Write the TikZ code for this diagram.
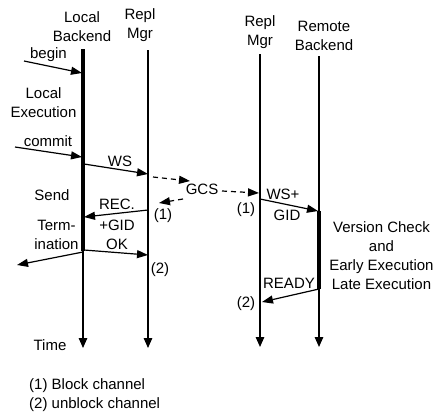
\documentclass[tikz,border=0pt]{standalone}
\usepackage{fontspec}
\setmainfont{Liberation Sans}
\usetikzlibrary{arrows.meta}
\begin{document}
\begin{tikzpicture}[x=1pt,y=-1pt,
  lbl/.style={font=\fontsize{15}{19}\selectfont, inner sep=0pt, align=center},
  life/.style={line width=1.4pt, -{Triangle[length=10pt,width=8.5pt]}},
  msg/.style={line width=1.2pt, -{Triangle[length=11pt,width=8pt]}},
  gcsmsg/.style={msg, dash pattern=on 5pt off 4pt},
  active/.style={line width=3.2pt},
]
\useasboundingbox (0,0) rectangle (436,413);

% lifeline headers
\node[lbl] (hLocal)  at (82,26.3)  {Local\\Backend};
\node[lbl] (hReplA)  at (140,25)   {Repl\\Mgr};
\node[lbl] (hReplB)  at (260,32.5) {Repl\\Mgr};
\node[lbl] (hRemote) at (324,35.5) {Remote\\Backend};

% lifelines
\coordinate (lbTop) at (83,49);   \coordinate (lbBot) at (83,348);
\coordinate (raTop) at (148,50);  \coordinate (raBot) at (148,348);
\coordinate (rbTop) at (260,54);  \coordinate (rbBot) at (260,347);
\coordinate (reTop) at (319,56);  \coordinate (reBot) at (319,347);
\draw[life] (lbTop) -- (lbBot);
\draw[life] (raTop) -- (raBot);
\draw[life] (rbTop) -- (rbBot);
\draw[life] (reTop) -- (reBot);

% activation bars
\coordinate (lbActEnd) at (83,251);
\draw[active] (lbTop) -- (lbActEnd);
\coordinate (reActTop) at (319,211);
\coordinate (reActEnd) at (319,289);
\draw[active] (reActTop) -- (reActEnd);

% begin / commit requests
\coordinate (beginSrc) at (24,61);  \coordinate (beginDst) at (82,73);
\draw[msg] (beginSrc) -- (beginDst);
\node[lbl] (tBegin) at (48.5,55) {begin};
\node[lbl] (tLocalExec) at (43.5,102.5) {Local\\Execution};
\coordinate (commitSrc) at (15,147); \coordinate (commitDst) at (82,157);
\draw[msg] (commitSrc) -- (commitDst);
\node[lbl] (tCommit) at (48,141) {commit};

% write set to the replication manager
\coordinate (wsSrc) at (84,164); \coordinate (wsDst) at (148,174);
\draw[msg] (wsSrc) -- (wsDst);
\node[lbl] (tWS) at (120,161.5) {WS};

% group communication
\node[lbl] (gcs) at (202,189) {GCS};
\coordinate (gcsInA) at (153,177); \coordinate (gcsInB) at (190,181);
\draw[gcsmsg] (gcsInA) -- (gcsInB);
\coordinate (gcsOutA) at (222,191); \coordinate (gcsOutB) at (259,193);
\draw[gcsmsg] (gcsOutA) -- (gcsOutB);
\coordinate (gcsBackA) at (183,199); \coordinate (gcsBackB) at (159,203);
\draw[gcsmsg] (gcsBackA) -- (gcsBackB);

% local send termination
\node[lbl] (tSend) at (52,195) {Send};
\node[lbl] (tTerm) at (56.5,235) {Term-\\ination};
\coordinate (recSrc) at (148,210); \coordinate (recDst) at (84,217);
\draw[msg] (recSrc) -- (recDst);
\node[lbl] (tRec) at (117,204.5) {REC.};
\node[lbl] (tGidOk) at (117,234.5) {+GID\\OK};
\coordinate (okSrc) at (84,250); \coordinate (okDst) at (148,255);
\draw[msg] (okSrc) -- (okDst);
\coordinate (outSrc) at (83,252); \coordinate (outDst) at (17,265);
\draw[msg] (outSrc) -- (outDst);
\node[lbl] (tOneA) at (163,216) {(1)};
\node[lbl] (tTwoA) at (160,270) {(2)};

% remote side
\node[lbl] (tOneB) at (246,210) {(1)};
\coordinate (wsgSrc) at (260,199); \coordinate (wsgDst) at (318,211);
\draw[msg] (wsgSrc) -- (wsgDst);
\node[lbl] (tWSp) at (283,194) {WS+};
\node[lbl] (tGID) at (287,215) {GID};
\node[lbl] (tVersion) at (381.5,255.5) {Version Check\\and\\Early Execution\\Late Execution};
\coordinate (readySrc) at (319,289); \coordinate (readyDst) at (262,302);
\draw[msg] (readySrc) -- (readyDst);
\node[lbl] (tReady) at (289,283) {READY};
\node[lbl] (tTwoB) at (246,304) {(2)};

% time axis and legend
\node[lbl] (tTime) at (50,345) {Time};
\node[lbl, anchor=west, align=left] (legend) at (29,395.5) {(1) Block channel\\(2) unblock channel};
\end{tikzpicture}
\end{document}
